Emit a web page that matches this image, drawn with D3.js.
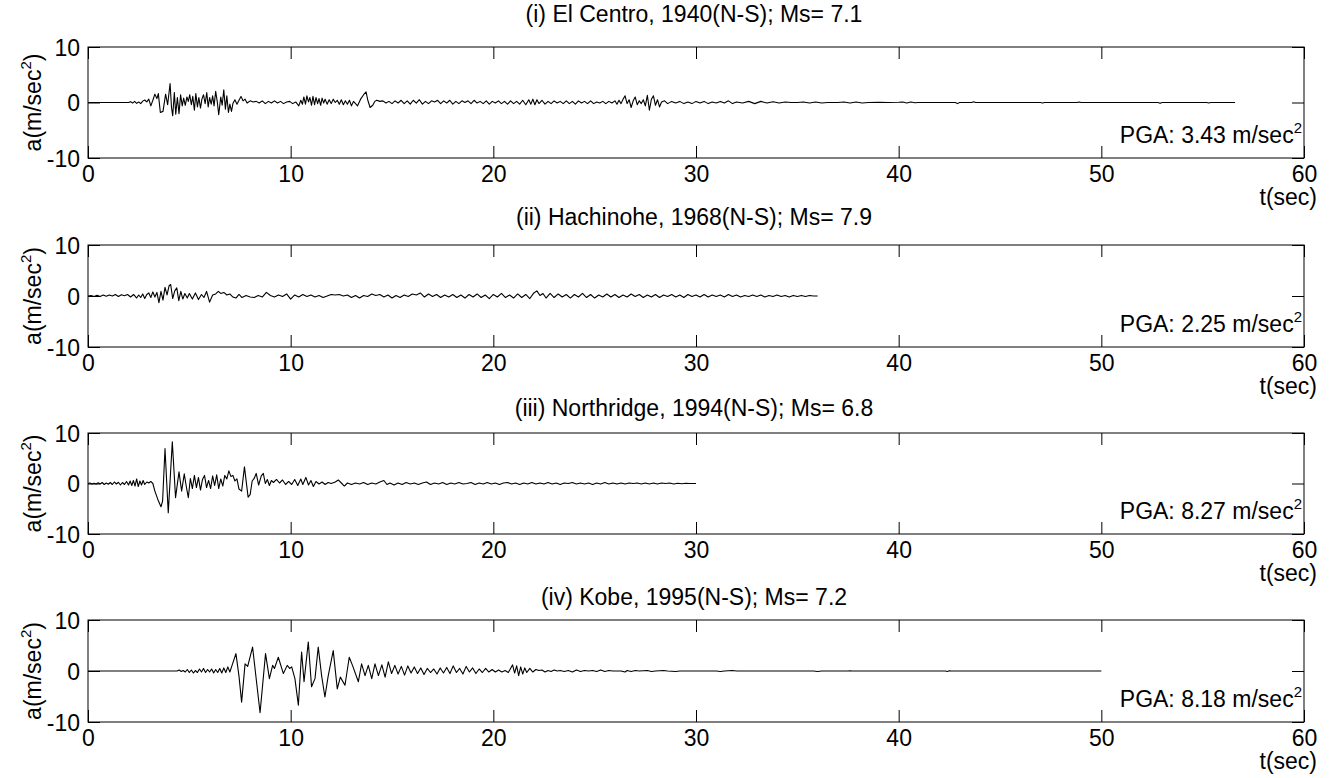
<!DOCTYPE html>
<html>
<head>
<meta charset="utf-8">
<script src="https://cdn.jsdelivr.net/npm/d3@7"></script>
<style>
  html, body { margin: 0; padding: 0; background: #fff; }
  svg { display: block; }
  text { font-family: "Liberation Sans", Arial, Helvetica, sans-serif; fill: #000; }
</style>
</head>
<body>
<svg id="chart" width="1335" height="778"></svg>
<script>
// ---------------- DATA (time s, acceleration m/s^2) ----------------
const titles = [
  "(i) El Centro, 1940(N-S); Ms= 7.1",
  "(ii) Hachinohe, 1968(N-S); Ms= 7.9",
  "(iii) Northridge, 1994(N-S); Ms= 6.8",
  "(iv) Kobe, 1995(N-S); Ms= 7.2"
];
const pgaValues = ["3.43", "2.25", "8.27", "8.18"];
const xTicks = [0, 10, 20, 30, 40, 50, 60];
const yTicks = [-10, 0, 10];

const elCentro = [
[0,0],[2.0,0],[2.1,0.15],[2.2,-0.1],[2.3,0.2],[2.4,-0.15],[2.5,0.1],[2.6,-0.2],[2.7,0.25],[2.8,0.45],[2.9,0.1],[3.0,0.6],[3.1,-0.6],[3.2,0.4],[3.3,1.5],[3.4,0.7],[3.47,1.6],[3.57,-1.8],[3.7,-1.6],[3.83,1.5],[3.93,-0.4],[4.05,3.43],[4.12,-0.9],[4.18,-2.4],[4.26,1.8],[4.33,-2.1],[4.41,0.9],[4.49,-2.0],[4.57,1.4],[4.65,-0.6],[4.72,0.8],[4.8,-0.5],[4.88,1.0],[4.95,0.2],[5.02,1.4],[5.1,-0.4],[5.17,1.1],[5.25,-1.4],[5.32,1.6],[5.4,-0.8],[5.47,0.9],[5.55,-1.0],[5.62,0.6],[5.7,1.4],[5.78,-0.2],[5.86,1.8],[5.93,-0.8],[6.0,0.9],[6.08,-0.3],[6.15,1.2],[6.22,-0.6],[6.3,2.0],[6.38,0.1],[6.45,-2.2],[6.55,1.0],[6.62,-0.5],[6.7,2.3],[6.78,-1.2],[6.85,1.2],[6.93,-1.8],[7.0,-0.3],[7.08,-1.6],[7.15,-0.2],[7.25,0.5],[7.35,-0.3],[7.45,0.4],[7.55,1.1],[7.65,0.3],[7.75,0.6],[7.85,-0.1],[8.0,0.3],[8.15,0.1],[8.3,0.2],[8.45,-0.1],[8.6,0.3],[8.75,-0.2],[8.9,0.2],[9.05,-0.1],[9.2,0.3],[9.35,-0.1],[9.5,0.2],[9.65,-0.2],[9.8,0.1],[9.95,0.2],[10.1,-0.2],[10.25,0.1],[10.4,-0.6],[10.5,0.4],[10.58,-0.3],[10.65,1.0],[10.73,-0.3],[10.8,1.2],[10.88,0.1],[10.95,0.9],[11.03,-0.5],[11.1,1.1],[11.18,-0.4],[11.25,0.9],[11.33,-0.2],[11.4,0.7],[11.48,-0.5],[11.55,0.8],[11.63,-0.1],[11.7,0.6],[11.8,-0.3],[11.9,0.5],[12.0,-0.2],[12.1,0.6],[12.2,0.0],[12.3,0.4],[12.4,-0.3],[12.5,0.5],[12.6,-0.4],[12.7,0.3],[12.8,-0.3],[12.9,0.4],[13.0,-0.6],[13.1,0.2],[13.2,-0.2],[13.3,-0.6],[13.45,0.6],[13.6,1.4],[13.72,1.9],[13.8,0.5],[13.92,-0.9],[14.05,-0.5],[14.15,0.2],[14.25,0.4],[14.4,0.2],[14.55,0.3],[14.7,-0.1],[14.85,0.2],[15.0,-0.2],[15.15,0.3],[15.3,-0.1],[15.45,0.4],[15.6,-0.2],[15.75,0.3],[15.9,-0.3],[16.05,0.4],[16.2,-0.1],[16.35,0.5],[16.5,-0.3],[16.65,0.2],[16.8,-0.2],[16.95,0.3],[17.1,0.1],[17.25,0.4],[17.4,-0.2],[17.55,0.3],[17.7,-0.1],[17.85,0.4],[18.0,-0.3],[18.15,0.2],[18.3,-0.2],[18.45,0.3],[18.6,0.0],[18.75,0.3],[18.9,-0.2],[19.05,0.4],[19.2,-0.1],[19.35,0.2],[19.5,-0.2],[19.65,0.3],[19.8,-0.3],[19.95,0.2],[20.1,-0.1],[20.25,0.3],[20.4,-0.2],[20.55,0.2],[20.7,-0.3],[20.85,0.3],[21.0,-0.2],[21.15,0.2],[21.3,-0.3],[21.45,0.4],[21.6,-0.4],[21.75,0.5],[21.85,-0.3],[21.95,0.6],[22.05,-0.4],[22.15,0.5],[22.25,-0.2],[22.4,0.4],[22.55,-0.3],[22.7,0.2],[22.85,-0.2],[23.0,0.3],[23.15,-0.1],[23.3,0.2],[23.45,-0.2],[23.6,0.3],[23.75,-0.2],[23.9,0.2],[24.05,-0.3],[24.2,0.3],[24.35,-0.1],[24.5,0.2],[24.65,-0.2],[24.8,0.3],[24.95,-0.2],[25.1,0.1],[25.25,-0.1],[25.4,0.2],[25.55,-0.2],[25.7,0.2],[25.85,-0.1],[26.0,0.3],[26.1,-0.3],[26.2,0.4],[26.3,-0.2],[26.4,0.6],[26.5,1.2],[26.6,-0.2],[26.7,0.5],[26.8,-0.9],[26.9,0.3],[27.0,1.0],[27.1,-0.4],[27.2,0.3],[27.3,-0.2],[27.4,0.5],[27.5,-0.6],[27.6,1.3],[27.7,-1.4],[27.8,0.6],[27.9,1.2],[28.0,-0.5],[28.1,0.5],[28.2,-0.8],[28.3,0.1],[28.45,0.3],[28.6,-0.2],[28.8,0.2],[29.0,-0.1],[29.2,0.2],[29.4,-0.2],[29.6,0.1],[29.8,-0.2],[30.0,0.2],[30.2,-0.1],[30.4,0.2],[30.6,-0.2],[30.8,0.1],[31.0,-0.1],[31.2,0.2],[31.4,-0.1],[31.6,0.3],[31.8,-0.2],[32.0,0.1],[32.3,-0.1],[32.6,0.2],[32.9,-0.2],[33.2,0.2],[33.5,-0.1],[33.8,0.15],[34.1,-0.1],[34.4,0.1],[34.7,0.0],[35.0,0.0],[35.3,0.1],[35.6,-0.1],[35.9,0.1],[36.2,-0.1],[36.5,0.0],[37.0,0.0],[37.3,0.1],[37.6,-0.1],[37.9,0.1],[38.2,-0.1],[38.5,0.0],[39.0,0.05],[39.5,0.0],[40.0,0.05],[40.2,0.1],[40.4,-0.1],[40.6,0.1],[40.8,-0.05],[41.0,0.0],[42.8,0.0],[42.9,-0.2],[43.0,0.0],[43.6,0.0],[43.7,0.12],[43.8,0.0],[47.0,0.0],[47.1,-0.1],[47.2,0.0],[48.8,0.0],[48.9,0.1],[49.0,0.0],[52.8,0.0],[52.9,-0.15],[53.0,0.0],[55.2,0.0],[55.3,-0.1],[55.4,0.0],[56.6,0]
];

const hachinohe = [
[0,0],[0.15,0.1],[0.3,-0.1],[0.45,0.15],[0.6,-0.1],[0.75,0.2],[0.9,-0.05],[1.05,0.2],[1.2,0.0],[1.35,0.3],[1.5,-0.1],[1.65,0.25],[1.8,0.05],[1.95,0.3],[2.1,-0.2],[2.25,0.3],[2.4,-0.4],[2.5,0.2],[2.6,-0.3],[2.7,0.4],[2.8,-0.5],[2.9,0.3],[3.0,0.6],[3.1,-0.3],[3.2,0.8],[3.3,-0.2],[3.4,0.7],[3.5,-1.3],[3.6,0.9],[3.7,-0.8],[3.8,1.7],[3.9,0.2],[4.0,2.0],[4.08,2.25],[4.18,-0.5],[4.28,1.0],[4.38,1.6],[4.48,-0.9],[4.58,0.9],[4.68,-0.6],[4.78,0.5],[4.9,-0.4],[5.0,0.5],[5.15,-0.6],[5.3,0.6],[5.45,-0.7],[5.6,0.3],[5.72,-0.3],[5.85,0.9],[6.0,-1.2],[6.15,0.2],[6.3,0.4],[6.43,0.9],[6.55,0.5],[6.7,0.7],[6.85,0.2],[7.0,0.4],[7.15,-0.2],[7.3,-0.4],[7.45,0.3],[7.6,-0.3],[7.8,0.1],[8.0,-0.2],[8.2,-0.3],[8.4,0.1],[8.6,-0.2],[8.8,0.7],[9.0,0.1],[9.2,-0.2],[9.4,0.2],[9.6,-0.1],[9.8,0.4],[10.0,-0.6],[10.2,0.2],[10.4,-0.2],[10.6,0.3],[10.8,-0.1],[11.0,0.2],[11.2,-0.2],[11.4,0.1],[11.6,-0.3],[11.8,0.0],[12.0,0.3],[12.2,0.2],[12.4,0.3],[12.6,0.0],[12.8,0.2],[13.0,-0.3],[13.2,0.1],[13.4,-0.4],[13.6,0.1],[13.8,-0.1],[14.0,0.4],[14.2,0.1],[14.4,0.3],[14.6,-0.2],[14.8,0.2],[15.0,-0.4],[15.2,0.1],[15.4,-0.3],[15.6,0.2],[15.8,-0.1],[16.0,0.4],[16.2,0.2],[16.4,0.6],[16.6,-0.2],[16.8,0.4],[17.0,-0.1],[17.2,0.3],[17.4,-0.3],[17.6,0.2],[17.8,-0.2],[18.0,0.3],[18.2,-0.3],[18.4,0.2],[18.6,-0.4],[18.8,0.3],[19.0,-0.2],[19.2,0.4],[19.4,-0.3],[19.6,0.2],[19.8,-0.5],[20.0,0.3],[20.2,-0.2],[20.4,0.5],[20.6,-0.3],[20.8,0.2],[21.0,-0.4],[21.2,0.4],[21.4,-0.3],[21.6,0.3],[21.8,-0.5],[22.0,0.6],[22.15,1.0],[22.3,0.1],[22.45,0.5],[22.6,-0.4],[22.8,0.5],[23.0,-0.3],[23.2,0.4],[23.4,-0.2],[23.6,0.3],[23.8,-0.4],[24.0,0.3],[24.2,-0.2],[24.4,0.5],[24.6,-0.3],[24.8,0.3],[25.0,-0.4],[25.2,0.2],[25.4,-0.2],[25.6,0.4],[25.8,-0.2],[26.0,0.3],[26.2,-0.3],[26.4,0.2],[26.6,-0.2],[26.8,0.4],[27.0,-0.1],[27.2,0.3],[27.4,-0.3],[27.6,0.2],[27.8,-0.2],[28.0,0.3],[28.2,-0.3],[28.4,0.2],[28.6,-0.1],[28.8,0.3],[29.0,-0.2],[29.2,0.2],[29.4,-0.3],[29.6,0.3],[29.8,-0.1],[30.0,0.2],[30.2,-0.2],[30.4,0.3],[30.6,-0.2],[30.8,0.2],[31.0,-0.1],[31.2,0.2],[31.4,-0.2],[31.6,0.3],[31.8,-0.1],[32.0,0.2],[32.2,-0.2],[32.4,0.1],[32.6,-0.1],[32.8,0.2],[33.0,-0.1],[33.2,0.2],[33.4,-0.2],[33.6,0.1],[33.8,-0.1],[34.0,0.2],[34.2,-0.1],[34.4,0.1],[34.6,-0.2],[34.8,0.1],[35.0,-0.1],[35.2,0.1],[35.4,-0.1],[35.6,0.1],[35.8,0.0],[36.0,0.0]
];

const northridge = [
[0,0],[0.1,0.1],[0.2,-0.1],[0.3,0.05],[0.4,-0.1],[0.5,0.15],[0.6,-0.1],[0.7,0.2],[0.8,-0.2],[0.9,0.1],[1.0,-0.15],[1.1,0.2],[1.2,-0.2],[1.3,0.3],[1.4,-0.1],[1.5,0.25],[1.6,-0.3],[1.7,0.2],[1.8,-0.2],[1.9,0.4],[2.0,-0.3],[2.08,0.5],[2.16,-0.4],[2.24,0.6],[2.32,-0.5],[2.4,0.9],[2.48,-0.6],[2.56,0.5],[2.64,-0.3],[2.72,0.6],[2.8,-0.2],[2.9,0.3],[3.0,0.1],[3.1,0.4],[3.2,0.0],[3.3,-1.5],[3.45,-3.2],[3.6,-4.6],[3.68,-3.5],[3.8,6.9],[3.96,-5.8],[4.16,8.27],[4.32,-2.8],[4.49,2.3],[4.62,-1.5],[4.75,1.9],[4.85,-0.6],[4.95,-2.8],[5.05,1.0],[5.15,-1.0],[5.25,1.6],[5.35,-0.8],[5.45,1.2],[5.55,-1.3],[5.65,0.8],[5.75,1.6],[5.85,-0.8],[5.95,0.6],[6.05,-1.0],[6.15,1.5],[6.25,-0.4],[6.35,1.7],[6.45,-1.0],[6.55,0.9],[6.65,-0.5],[6.75,1.6],[6.85,0.9],[6.95,2.5],[7.05,1.4],[7.15,1.6],[7.25,0.5],[7.35,0.9],[7.45,-1.1],[7.58,-1.5],[7.72,3.3],[7.9,-2.7],[8.0,-2.2],[8.1,0.5],[8.2,1.0],[8.3,2.0],[8.42,-0.3],[8.55,1.5],[8.65,2.0],[8.75,0.0],[8.85,0.8],[8.95,-0.4],[9.05,0.6],[9.15,0.2],[9.3,0.8],[9.45,0.1],[9.6,0.7],[9.75,-0.2],[9.9,0.4],[10.05,-0.2],[10.2,0.8],[10.35,-0.4],[10.5,0.9],[10.6,-0.2],[10.75,1.2],[10.88,-0.3],[11.0,0.6],[11.12,-0.6],[11.25,0.4],[11.4,-0.1],[11.55,0.3],[11.7,-0.2],[11.85,0.2],[12.0,0.0],[12.2,0.3],[12.35,0.7],[12.5,0.1],[12.65,-0.5],[12.8,0.1],[13.0,-0.2],[13.2,0.1],[13.4,-0.1],[13.6,0.2],[13.8,-0.2],[14.0,0.1],[14.2,-0.1],[14.4,0.3],[14.6,0.6],[14.75,-0.2],[14.9,0.1],[15.1,-0.3],[15.3,0.1],[15.5,-0.2],[15.7,0.2],[15.9,-0.1],[16.1,0.1],[16.3,-0.2],[16.5,0.1],[16.7,0.3],[16.9,-0.2],[17.1,0.1],[17.3,-0.1],[17.5,0.2],[17.7,-0.2],[17.9,0.1],[18.1,-0.1],[18.3,0.2],[18.5,-0.1],[18.7,0.0],[18.9,0.2],[19.1,-0.2],[19.3,0.1],[19.5,-0.1],[19.7,0.2],[19.9,-0.1],[20.1,0.1],[20.3,-0.2],[20.5,0.1],[20.7,0.2],[20.9,-0.1],[21.1,0.1],[21.3,-0.2],[21.5,0.1],[21.7,-0.1],[21.9,0.2],[22.1,-0.1],[22.3,0.1],[22.5,-0.1],[22.7,0.2],[22.9,-0.1],[23.1,0.1],[23.3,-0.2],[23.5,0.1],[23.7,0.0],[23.9,0.2],[24.1,-0.1],[24.3,0.1],[24.5,-0.1],[24.7,0.1],[24.9,-0.2],[25.1,0.1],[25.3,-0.1],[25.5,0.2],[25.7,-0.1],[25.9,0.1],[26.1,-0.1],[26.3,0.1],[26.5,-0.1],[26.7,0.1],[26.9,0.0],[27.1,0.1],[27.3,-0.1],[27.5,0.1],[27.7,-0.1],[27.9,0.1],[28.1,-0.1],[28.3,0.1],[28.5,0.0],[28.7,0.1],[28.9,-0.1],[29.1,0.05],[29.3,-0.05],[29.5,0.05],[29.7,0.0],[30.0,0.0]
];

const kobe = [
[0,0],[4.4,0],[4.5,0.2],[4.6,-0.1],[4.7,0.1],[4.8,-0.2],[4.9,0.3],[5.0,-0.3],[5.1,0.2],[5.2,-0.4],[5.3,0.1],[5.4,-0.3],[5.5,0.4],[5.6,-0.2],[5.7,0.5],[5.8,-0.3],[5.9,0.3],[6.0,-0.2],[6.1,0.4],[6.2,-0.4],[6.3,0.3],[6.4,-0.3],[6.5,0.5],[6.6,-0.4],[6.7,0.6],[6.8,-0.3],[6.9,0.8],[7.0,-0.2],[7.1,1.0],[7.3,3.4],[7.45,-1.0],[7.58,-6.1],[7.75,1.4],[7.88,0.9],[8.12,4.7],[8.49,-8.18],[8.76,3.4],[8.95,-1.5],[9.11,1.1],[9.2,0.5],[9.39,2.7],[9.64,-0.5],[9.83,1.1],[9.95,0.5],[10.05,0.8],[10.21,-1.5],[10.38,-6.7],[10.54,3.7],[10.66,-2.1],[10.87,5.7],[11.03,-3.1],[11.2,-1.5],[11.36,4.7],[11.53,-1.0],[11.69,-5.1],[11.85,-1.0],[12.1,4.0],[12.3,-3.5],[12.45,-1.2],[12.68,-2.8],[12.89,2.7],[13.05,1.1],[13.34,-2.1],[13.5,1.4],[13.67,-0.9],[13.83,1.1],[14.0,-1.5],[14.16,1.4],[14.33,-0.9],[14.5,1.2],[14.66,-1.2],[14.82,1.8],[14.98,-0.5],[15.14,1.1],[15.3,-0.6],[15.46,0.9],[15.62,-0.8],[15.78,1.0],[15.94,-0.4],[16.1,0.8],[16.26,-0.5],[16.42,0.6],[16.58,-0.7],[16.74,0.5],[16.9,-0.3],[17.06,0.4],[17.22,-0.6],[17.38,0.6],[17.54,-0.4],[17.7,0.7],[17.86,-0.5],[18.02,1.0],[18.18,-0.3],[18.34,0.5],[18.5,-0.6],[18.66,0.9],[18.82,-0.2],[18.98,0.6],[19.14,-0.5],[19.3,0.4],[19.46,-0.3],[19.62,0.5],[19.78,-0.2],[19.94,0.3],[20.1,-0.2],[20.26,0.2],[20.42,-0.2],[20.58,0.1],[20.74,-0.3],[20.85,0.5],[20.95,1.2],[21.05,-0.4],[21.15,1.0],[21.25,-0.9],[21.35,0.8],[21.45,-0.6],[21.55,0.6],[21.65,-0.3],[21.8,0.5],[21.95,-0.2],[22.1,0.3],[22.25,0.1],[22.4,0.2],[22.55,-0.2],[22.7,0.1],[22.85,-0.1],[23.0,0.2],[23.15,0.0],[23.3,0.1],[23.5,-0.1],[23.7,0.1],[23.9,-0.2],[24.1,0.2],[24.3,-0.1],[24.5,0.1],[24.7,0.0],[24.9,0.1],[25.1,-0.1],[25.3,0.2],[25.5,-0.1],[25.7,0.1],[25.9,0.0],[26.3,0.0],[26.5,-0.2],[26.6,0.1],[26.8,-0.1],[27.0,0.1],[27.2,0.0],[27.6,0.1],[27.8,-0.1],[28.0,0.0],[28.4,0.1],[28.6,0.0],[29.0,-0.1],[29.2,0.0],[31.0,0.0],[31.2,-0.1],[31.4,0.0],[31.8,0.1],[32.0,0.0],[35.8,0.0],[36.0,-0.1],[36.2,0.0],[37.5,0.0],[37.6,0.05],[37.7,0.0],[42.3,0.0],[42.4,-0.1],[42.5,0.05],[42.6,0.0],[50,0]
];

const records = [elCentro, hachinohe, northridge, kobe];

// ---------------- LAYOUT ----------------
const xLeft = 88, xRight = 1304;
const panelTop = [47, 245, 433, 620];
const panelBottom = [158, 347, 534, 722];
const titleGap = [25, 20, 17, 15];
const fontSize = 23;

const svg = d3.select("#chart");

records.forEach((rec, i) => {
  const top = panelTop[i], bottom = panelBottom[i];
  const x = d3.scaleLinear().domain([0, 60]).range([xLeft, xRight]);
  const y = d3.scaleLinear().domain([-10, 10]).range([bottom, top]);
  const g = svg.append("g");

  // title
  g.append("text")
    .attr("x", (xLeft + xRight) / 2 - 2)
    .attr("y", top - titleGap[i])
    .attr("text-anchor", "middle")
    .style("font-size", fontSize + "px")
    .text(titles[i]);

  // data line
  g.append("path")
    .datum(rec)
    .attr("fill", "none")
    .attr("stroke", "#000")
    .attr("stroke-width", 1.1)
    .attr("stroke-linejoin", "round")
    .attr("d", d3.line().x(d => x(d[0])).y(d => y(d[1])));

  // axes
  const fmt = d => String(d);
  const axB = g.append("g").attr("transform", `translate(0,${bottom})`)
    .call(d3.axisBottom(x).tickValues(xTicks).tickSizeInner(-12).tickSizeOuter(0).tickPadding(8).tickFormat(fmt));
  const axT = g.append("g").attr("transform", `translate(0,${top})`)
    .call(d3.axisTop(x).tickValues(xTicks).tickSizeInner(-12).tickSizeOuter(0).tickFormat(""));
  const axL = g.append("g").attr("transform", `translate(${xLeft},0)`)
    .call(d3.axisLeft(y).tickValues(yTicks).tickSizeInner(-12).tickSizeOuter(0).tickPadding(8).tickFormat(fmt));
  const axR = g.append("g").attr("transform", `translate(${xRight},0)`)
    .call(d3.axisRight(y).tickValues(yTicks).tickSizeInner(-12).tickSizeOuter(0).tickFormat(""));
  [axB, axT, axL, axR].forEach(a => {
    a.select(".domain").remove();
    a.selectAll("line").attr("stroke", "#000");
    a.selectAll("text").style("font-size", fontSize + "px").attr("fill", "#000")
      .style("font-family", '"Liberation Sans", Arial, sans-serif');
  });
  axL.selectAll("text").attr("dy", "0.36em");

  // box
  g.append("rect")
    .attr("x", xLeft).attr("y", top)
    .attr("width", xRight - xLeft).attr("height", bottom - top)
    .attr("fill", "none").attr("stroke", "#000").attr("stroke-width", 1);

  // y label
  const yl = g.append("text")
    .attr("transform", `translate(41,${(top + bottom) / 2}) rotate(-90)`)
    .attr("text-anchor", "middle")
    .style("font-size", fontSize + "px");
  yl.append("tspan").text("a(m/sec");
  yl.append("tspan").attr("dy", -10).style("font-size", "15px").text("2");
  yl.append("tspan").attr("dy", 10).text(")");

  // x label
  g.append("text")
    .attr("x", xRight + 13).attr("y", bottom + 47)
    .attr("text-anchor", "end")
    .style("font-size", fontSize + "px")
    .text("t(sec)");

  // PGA annotation
  const pg = g.append("text")
    .attr("x", xRight - 2).attr("y", bottom - 15)
    .attr("text-anchor", "end")
    .style("font-size", fontSize + "px");
  pg.append("tspan").text("PGA: " + pgaValues[i] + " m/sec");
  pg.append("tspan").attr("dy", -10).style("font-size", "15px").text("2");
});
</script>
</body>
</html>
